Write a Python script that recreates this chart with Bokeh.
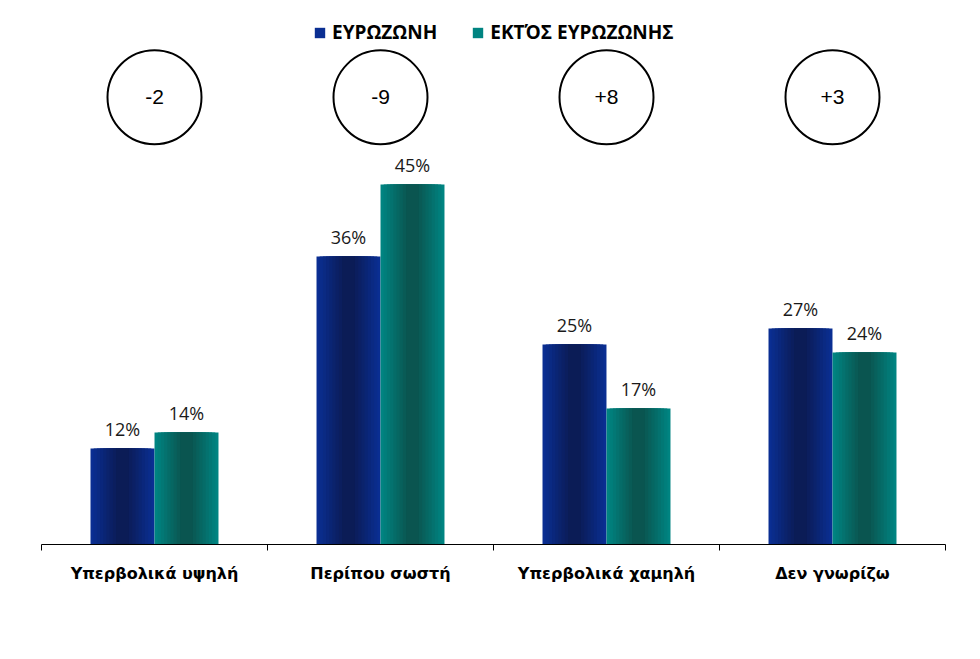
from bokeh.plotting import figure
from bokeh.models import (ColumnDataSource, Range1d, FixedTicker, Legend, LegendItem)
from bokeh.core.properties import value
from bokeh.embed import file_html
from bokeh.resources import INLINE

categories = ["Υπερβολικά υψηλή", "Περίπου σωστή", "Υπερβολικά χαμηλή", "Δεν γνωρίζω"]
eurozone = [12, 36, 25, 27]
non_eurozone = [14, 45, 17, 24]
differences = ["-2", "-9", "+8", "+3"]
series_names = ["ΕΥΡΩΖΩΝΗ", "ΕΚΤΌΣ ΕΥΡΩΖΩΝΗΣ"]

x_pos = list(range(len(categories)))
bar_w = 0.283
off = 0.1416

src_a = ColumnDataSource(dict(x=[v - off for v in x_pos], top=eurozone,
                              lbl=[f"{v}%" for v in eurozone]))
src_b = ColumnDataSource(dict(x=[v + off for v in x_pos], top=non_eurozone,
                              lbl=[f"{v}%" for v in non_eurozone]))
circle_y = 55.9
src_c = ColumnDataSource(dict(x=x_pos, y=[circle_y] * len(x_pos), t=differences))

p = figure(width=964, height=643, output_backend="svg", toolbar_location=None,
           x_range=Range1d(-0.5, 3.5), y_range=Range1d(0, 67),
           min_border_left=41, min_border_right=19, min_border_top=8,
           min_border_bottom=99)
p.outline_line_color = None
p.xgrid.visible = False
p.ygrid.visible = False
p.yaxis.visible = False


def blend(c1, c2, t):
    a = [int(c1[i:i + 2], 16) for i in (1, 3, 5)]
    b = [int(c2[i:i + 2], 16) for i in (1, 3, 5)]
    return "#" + "".join(f"{int(round(a[k] + (b[k] - a[k]) * t)):02x}" for k in range(3))


def gradient_bars(src, edge, center):
    n = 9
    first = None
    for i in range(n):
        t = i / (n - 1)
        w = bar_w * (1 - 0.8 * t)
        r = p.vbar(x="x", top="top", width=w, bottom=0, source=src,
                   fill_color=blend(edge, center, t), line_color=None)
        if first is None:
            first = r
    return first


ra = gradient_bars(src_a, "#0a2e92", "#0b1c56")
rb = gradient_bars(src_b, "#008481", "#0a5550")

for src in (src_a, src_b):
    p.text(x="x", y="top", text="lbl", source=src, text_align="center",
           text_baseline="bottom", y_offset=-8, text_font=value("Open Sans"),
           text_font_size="18px", text_color="#1a1a1a")

p.scatter(x="x", y="y", source=src_c, marker="circle", size=94,
          fill_color="white", line_color="black", line_width=2)
p.text(x="x", y="y", text="t", source=src_c, text_align="center",
       text_baseline="middle", text_font=value("Liberation Sans"),
       text_font_size="21px", text_color="black")

ax = p.xaxis[0]
ax.ticker = FixedTicker(ticks=x_pos, minor_ticks=[-0.5, 0.5, 1.5, 2.5, 3.5])
ax.major_label_overrides = {i: c for i, c in enumerate(categories)}
ax.major_tick_out = 0
ax.major_tick_in = 0
ax.minor_tick_out = 6
ax.minor_tick_in = 0
ax.minor_tick_line_color = "black"
ax.axis_line_color = "black"
ax.axis_line_width = 1
ax.major_label_standoff = 13
ax.major_label_text_font = "DejaVu Sans"
ax.major_label_text_font_style = "bold"
ax.major_label_text_font_size = "16px"
ax.major_label_text_color = "black"

legend = Legend(items=[LegendItem(label=series_names[0], renderers=[ra]),
                       LegendItem(label=series_names[1], renderers=[rb])],
                orientation="horizontal", location=(272, 499),
                label_text_font="Open Sans", label_text_font_style="bold",
                label_text_font_size="19px", label_text_color="black",
                glyph_width=13, glyph_height=13, label_standoff=6,
                spacing=34, padding=0, margin=0,
                background_fill_alpha=0, border_line_color=None)
p.add_layout(legend)

open("out.html", "w").write(file_html(p, INLINE))
